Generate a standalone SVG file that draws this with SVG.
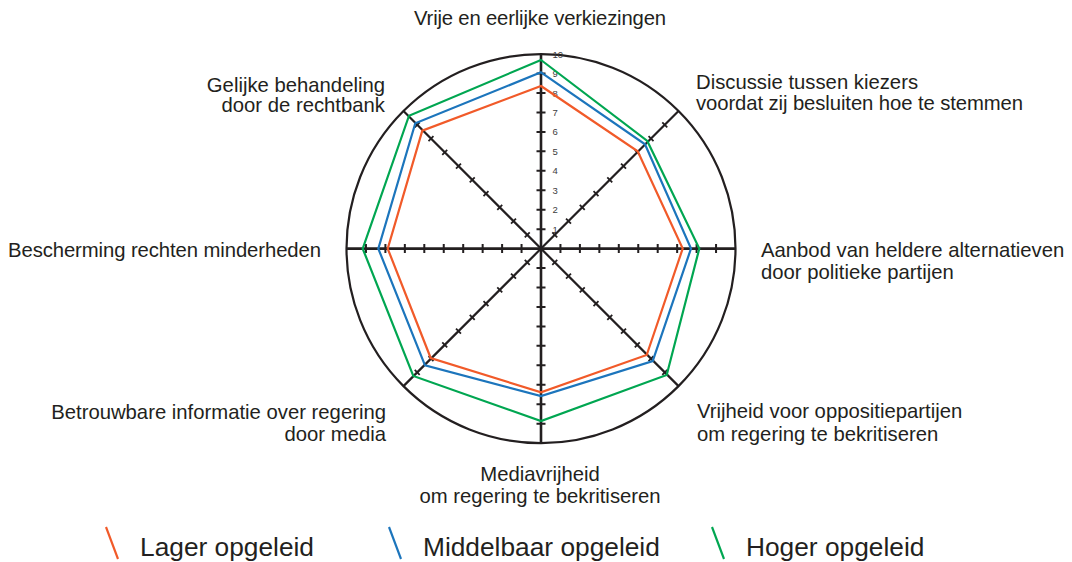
<svg xmlns="http://www.w3.org/2000/svg" xmlns:xlink="http://www.w3.org/1999/xlink" width="1072" height="562" viewBox="0 0 1072 562">
<style>
.lbl{font-family:"Liberation Sans",Arial,sans-serif;font-size:20.3px;fill:#231F20}
.leg{font-family:"Liberation Sans",Arial,sans-serif;font-size:26.3px;fill:#231F20}
.num{font-family:"Liberation Sans",Arial,sans-serif;font-size:9.5px;fill:#3d3d3d}
.ax{stroke:#231F20;stroke-width:2.6;fill:none}
.tk{stroke:#231F20;stroke-width:2;fill:none}
.dg{stroke:#231F20;stroke-width:2.2;fill:none}
.dtk{stroke:#231F20;stroke-width:1.8;fill:none}
.s{fill:none;stroke-width:2.2;stroke-linejoin:miter}
.o{stroke:#F15A29}
.b{stroke:#1C75BC}
.g{stroke:#00A651}
</style>
<defs>
<g id="diag">
<line class="dg" x1="-194.5" y1="0" x2="194.5" y2="0"/>
<path class="dtk" d="M19.45,-3.5v7M38.9,-3.5v7M58.35,-3.5v7M77.8,-3.5v7M97.25,-3.5v7M116.7,-3.5v7M136.15,-3.5v7M155.6,-3.5v7M175.05,-3.5v7M-19.45,-3.5v7M-38.9,-3.5v7M-58.35,-3.5v7M-77.8,-3.5v7M-97.25,-3.5v7M-116.7,-3.5v7M-136.15,-3.5v7M-155.6,-3.5v7M-175.05,-3.5v7"/>
</g>
</defs>
<rect width="1072" height="562" fill="#ffffff"/>
<g id="grid">
<circle cx="541" cy="248.6" r="194.5" fill="none" stroke="#231F20" stroke-width="2.2"/>
<g class="num">
<text x="552.5" y="232.6">1</text>
<text x="552.5" y="213.2">2</text>
<text x="552.5" y="193.7">3</text>
<text x="552.5" y="174.3">4</text>
<text x="552.5" y="154.8">5</text>
<text x="552.5" y="135.4">6</text>
<text x="552.5" y="115.9">7</text>
<text x="552.5" y="96.5">8</text>
<text x="552.5" y="77">9</text>
<text x="552.5" y="57.6">10</text>
</g>
<use xlink:href="#diag" transform="translate(541,248.6) rotate(45)"/>
<use xlink:href="#diag" transform="translate(541,248.6) rotate(-45)"/>
<line class="ax" x1="541" y1="54.1" x2="541" y2="443.1"/>
<line class="ax" x1="346.5" y1="248.6" x2="735.5" y2="248.6"/>
<path class="tk" d="M536.5,229.15h9M536.5,209.7h9M536.5,190.25h9M536.5,170.8h9M536.5,151.35h9M536.5,131.9h9M536.5,112.45h9M536.5,93h9M536.5,73.55h9M536.5,268.05h9M536.5,287.5h9M536.5,306.95h9M536.5,326.4h9M536.5,345.85h9M536.5,365.3h9M536.5,384.75h9M536.5,404.2h9M536.5,423.65h9"/>
<path class="tk" d="M560.45,244.1v9M579.9,244.1v9M599.35,244.1v9M618.8,244.1v9M638.25,244.1v9M657.7,244.1v9M677.15,244.1v9M696.6,244.1v9M716.05,244.1v9M521.55,244.1v9M502.1,244.1v9M482.65,244.1v9M463.2,244.1v9M443.75,244.1v9M424.3,244.1v9M404.85,244.1v9M385.4,244.1v9M365.95,244.1v9"/>
</g>
<g id="series">
<polygon id="lager" class="s o" points="541,86 637.7,151.3 682.7,248.6 646.7,355 541,392.3 430.7,358 387.7,248.6 422.3,130.7"/>
<polygon id="middelbaar" class="s b" points="541,72.3 645,144.3 691,248.6 652.7,361 541,396 425,365.3 378.3,248.6 415.3,123.3"/>
<polygon id="hoger" class="s g" points="541,60 647.3,141 699.3,248.6 666.7,375 541,421 413.3,376 362.7,248.6 409,115.7"/>
</g>
<g id="labels">
<g id="lbl-top"><text class="lbl" x="540" y="25" text-anchor="middle" textLength="252">Vrije en eerlijke verkiezingen</text></g>
<g id="lbl-ul"><text class="lbl" x="385" y="91.5" text-anchor="end">Gelijke behandeling</text><text class="lbl" x="385" y="112" text-anchor="end">door de rechtbank</text></g>
<g id="lbl-ur"><text class="lbl" x="696" y="88.5">Discussie tussen kiezers</text><text class="lbl" x="696" y="110" textLength="327">voordat zij besluiten hoe te stemmen</text></g>
<g id="lbl-l"><text class="lbl" x="8" y="256.5" textLength="313">Bescherming rechten minderheden</text></g>
<g id="lbl-r"><text class="lbl" x="761" y="257">Aanbod van heldere alternatieven</text><text class="lbl" x="761" y="279">door politieke partijen</text></g>
<g id="lbl-ll"><text class="lbl" x="386" y="419" text-anchor="end">Betrouwbare informatie over regering</text><text class="lbl" x="386" y="441" text-anchor="end">door media</text></g>
<g id="lbl-lr"><text class="lbl" x="697" y="418">Vrijheid voor oppositiepartijen</text><text class="lbl" x="697" y="441">om regering te bekritiseren</text></g>
<g id="lbl-b"><text class="lbl" x="540" y="481" text-anchor="middle">Mediavrijheid</text><text class="lbl" x="540" y="503" text-anchor="middle">om regering te bekritiseren</text></g>
</g>
<g id="legend">
<line class="s o" x1="106" y1="527" x2="118" y2="559"/>
<text class="leg" x="140" y="556">Lager opgeleid</text>
<line class="s b" x1="389" y1="527" x2="401" y2="559"/>
<text class="leg" x="423" y="556">Middelbaar opgeleid</text>
<line class="s g" x1="712" y1="527" x2="724" y2="559"/>
<text class="leg" x="746" y="556">Hoger opgeleid</text>
</g>
</svg>
